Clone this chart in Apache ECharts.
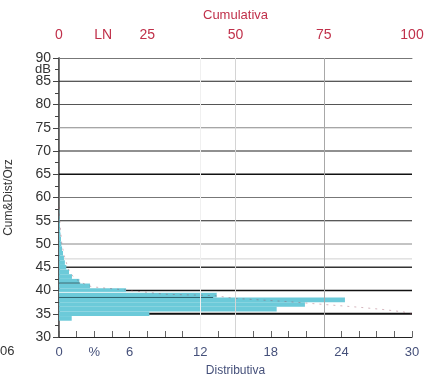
<!DOCTYPE html>
<html>
<head>
<meta charset="utf-8">
<script src="https://cdn.jsdelivr.net/npm/echarts@6/dist/echarts.min.js"></script>
<style>html,body{margin:0;padding:0;background:#fff}#c{width:428px;height:377px}</style>
</head>
<body>
<div id="c"></div>
<script>
// Distribution: level bins (dB, bin centres) and percent of time (bottom axis)
const dbBins  = [34, 35, 36, 37, 38, 39, 40, 41, 42, 43, 44, 45, 46, 47, 48, 49, 50, 51, 52, 53, 54, 55, 56, 57];
const distPct = [1.08, 7.68, 18.5, 20.9, 24.3, 13.4, 5.7, 2.64, 1.73, 1.1, 0.85, 0.62, 0.5, 0.42, 0.34, 0.26, 0.2, 0.17, 0.13, 0.1, 0.08, 0.06, 0.04, 0.03];
// Cumulative curve (top axis %, dB)
const cumPct = [0, 0.3, 0.8, 1.5, 2.6, 4, 6, 9.3, 19, 30, 44, 50, 65, 75, 85, 92, 97.5, 100];
const cumDb  = [58, 54, 50, 47.5, 44.7, 43, 41.8, 40.8, 40.1, 39.2, 38.9, 38.3, 37.6, 37.0, 36.4, 35.9, 35.4, 35.0];
// Horizontal level lines (dB)
const levelLines = [85, 80, 75, 70, 65, 60, 55, 50, 46.8, 45, 40, 35];
// Short lines inside the bars: level (dB) and end (bottom axis %)
const innerLevels = [41.6, 39.6, 38.5];
const innerEnds   = [1.8, 13.4, 13.1];
// Vertical reference lines (top axis %)
const vLines = [40, 50, 75];
// Tick labels
const topLabels = {0: '0', 12.5: 'LN', 25: '25', 50: '50', 75: '75', 100: '100'};
const bottomLabels = {0: '0', 3: '%', 6: '6', 12: '12', 18: '18', 24: '24', 30: '30'};

const levelColors = ['#222', '#555', '#888', '#222', '#111', '#777', '#222', '#888', '#d0d0d0', '#333', '#111', '#111'];
const levelWidths = [1.2, 1, 1, 1.2, 1.6, 1, 1.2, 1, 1, 1.4, 1.4, 2];
const innerColors = ['#2f6470', '#e6f6f8', '#2f6470'];
const vColors = ['#f0f0f0', '#d4d4d4', '#a8a8a8'];

const FONT = 'Liberation Sans';
const chart = echarts.init(document.getElementById('c'), null, {renderer: 'canvas'});

function fmtKey(v) { return Math.round(v * 100) / 100; }

chart.setOption({
  animation: false,
  grid: {left: 59, right: 16, top: 58, bottom: 40, containLabel: false, outerBoundsMode: 'none'},
  xAxis: [
    {
      type: 'value', position: 'bottom', min: 0, max: 30, interval: 1.5,
      name: 'Distributiva', nameLocation: 'middle', nameGap: 28,
      nameTextStyle: {color: '#45507a', fontFamily: FONT, fontSize: 12},
      axisLine: {show: true, lineStyle: {color: '#222', width: 1.2}},
      axisTick: {show: true, inside: true, length: 6, lineStyle: {color: '#666'}},
      axisLabel: {color: '#45507a', fontFamily: FONT, fontSize: 13, margin: 9,
        formatter: v => (bottomLabels[fmtKey(v)] !== undefined ? bottomLabels[fmtKey(v)] : '')},
      splitLine: {show: false}
    },
    {
      type: 'value', position: 'top', min: 0, max: 100, interval: 12.5,
      name: 'Cumulativa', nameLocation: 'middle', nameGap: 36,
      nameTextStyle: {color: '#c0304a', fontFamily: FONT, fontSize: 13},
      axisLine: {show: true, lineStyle: {color: '#777', width: 1}},
      axisTick: {show: false},
      axisLabel: {color: '#c0304a', fontFamily: FONT, fontSize: 14, margin: 16,
        formatter: v => (topLabels[fmtKey(v)] !== undefined ? topLabels[fmtKey(v)] : '')},
      splitLine: {show: false}
    }
  ],
  yAxis: [
    {
      type: 'value', min: 30, max: 90, interval: 5, position: 'left',
      name: 'Cum&Dist/Orz', nameLocation: 'middle', nameGap: 44,
      nameTextStyle: {color: '#333', fontFamily: FONT, fontSize: 12},
      axisLine: {show: true, lineStyle: {color: '#222', width: 1.5}},
      axisTick: {show: true, inside: false, length: 6, lineStyle: {color: '#444'}},
      minorTick: {show: true, splitNumber: 2, length: 4, lineStyle: {color: '#444'}},
      axisLabel: {color: '#333', fontFamily: FONT, fontSize: 14, margin: 8},
      splitLine: {show: false}
    },
    {
      type: 'value', min: 30, max: 90, position: 'right',
      axisLine: {show: true, lineStyle: {color: '#777', width: 1}},
      axisTick: {show: false}, axisLabel: {show: false}, splitLine: {show: false}
    }
  ],
  graphic: [
    {type: 'text', left: 35, top: 63, style: {text: 'dB', fill: '#333', font: '13px "Liberation Sans"'}},
    {type: 'text', left: 0, top: 345, style: {text: '06', fill: '#333', font: '13px "Liberation Sans"'}}
  ],
  series: [
    {
      name: 'levels', type: 'custom', xAxisIndex: 1, yAxisIndex: 0, z: 1,
      data: levelLines.map(l => [0, l, 100]),
      encode: {x: [0, 2], y: 1},
      renderItem: (params, api) => {
        const a = api.coord([api.value(0), api.value(1)]);
        const b = api.coord([api.value(2), api.value(1)]);
        const i = params.dataIndex;
        return {type: 'line', shape: {x1: a[0], y1: a[1], x2: b[0], y2: b[1]},
          style: {stroke: levelColors[i], lineWidth: levelWidths[i]}};
      },
      markLine: {
        silent: true, symbol: 'none', label: {show: false},
        data: vLines.map((v, i) => ({xAxis: v, lineStyle: {color: vColors[i], width: 1, type: 'solid'}}))
      }
    },
    {
      name: 'Distributiva', type: 'custom', xAxisIndex: 0, yAxisIndex: 0, z: 2,
      data: dbBins.map((d, i) => [distPct[i], d]),
      encode: {x: 0, y: 1},
      renderItem: (params, api) => {
        const p = api.value(0), d = api.value(1);
        const a = api.coord([0, d + 0.5]);
        const b = api.coord([p, d - 0.5]);
        return {type: 'rect', shape: {x: a[0], y: a[1], width: b[0] - a[0], height: b[1] - a[1]},
          style: {fill: '#6ccad9'}};
      }
    },
    {
      name: 'inner', type: 'custom', xAxisIndex: 0, yAxisIndex: 0, z: 3,
      data: innerLevels.map((l, i) => [0, l, innerEnds[i]]),
      encode: {x: [0, 2], y: 1},
      renderItem: (params, api) => {
        const a = api.coord([api.value(0), api.value(1)]);
        const b = api.coord([api.value(2), api.value(1)]);
        return {type: 'line', shape: {x1: a[0], y1: a[1], x2: b[0], y2: b[1]},
          style: {stroke: innerColors[params.dataIndex], lineWidth: 1}};
      }
    },
    {
      name: 'Cumulativa', type: 'line', xAxisIndex: 1, yAxisIndex: 0, z: 4,
      data: cumPct.map((p, i) => [p, cumDb[i]]),
      symbol: 'none', smooth: false,
      lineStyle: {color: 'rgba(150,70,90,0.4)', width: 1, type: [2, 5]}
    }
  ]
});
</script>
</body>
</html>
